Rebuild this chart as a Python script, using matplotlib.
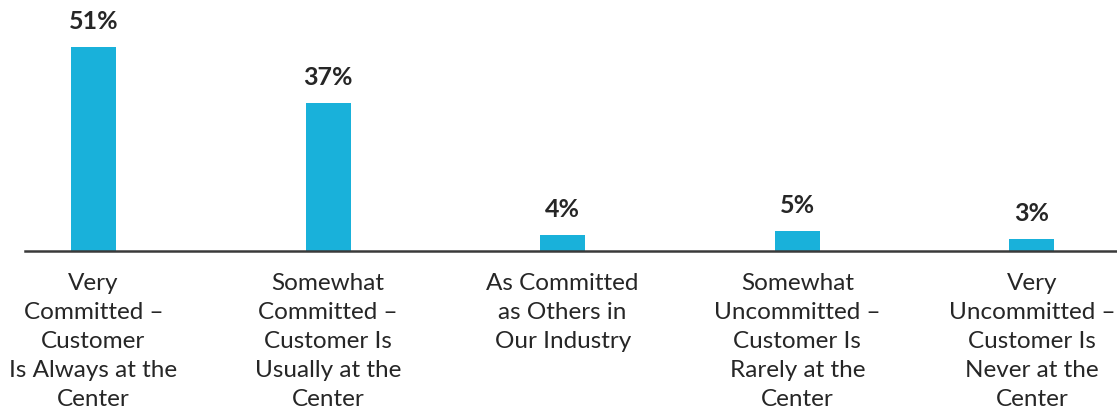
import matplotlib.pyplot as plt
import numpy as np

plt.rcParams['font.family'] = ['Lato', 'DejaVu Sans']

categories = [
    "Very\nCommitted \u2013\nCustomer\nIs Always at the\nCenter",
    "Somewhat\nCommitted \u2013\nCustomer Is\nUsually at the\nCenter",
    "As Committed\nas Others in\nOur Industry",
    "Somewhat\nUncommitted \u2013\nCustomer Is\nRarely at the\nCenter",
    "Very\nUncommitted \u2013\nCustomer Is\nNever at the\nCenter",
]
values = [51, 37, 4, 5, 3]

bar_color = '#19B1DA'
text_color = '#262626'

fig = plt.figure(figsize=(11.17, 4.11), dpi=100)
ax = fig.add_axes([25 / 1117, 160 / 411, 1 - 25 / 1117, 240 / 411])

x = np.arange(len(values))
bars = ax.bar(x, values, width=0.192, color=bar_color, zorder=2)

for b, v in zip(bars, values):
    ax.annotate(f"{v}%", (b.get_x() + b.get_width() / 2, v),
                xytext=(0, 10), textcoords='offset points',
                ha='center', va='bottom', fontsize=18, fontweight='bold',
                color=text_color)

ax.set_xlim(-0.292, 4.363)
ax.set_ylim(0, 60)
ax.set_xticks(x)
ax.set_xticklabels(categories, fontsize=17.5, color=text_color, linespacing=1.47)
ax.tick_params(axis='x', length=0, pad=16)
ax.set_yticks([])

for side in ['top', 'right', 'left']:
    ax.spines[side].set_visible(False)
ax.spines['bottom'].set_color('#3a3a3a')
ax.spines['bottom'].set_linewidth(1.8)
ax.spines['bottom'].set_zorder(3)

plt.savefig('out.png', dpi=100)
